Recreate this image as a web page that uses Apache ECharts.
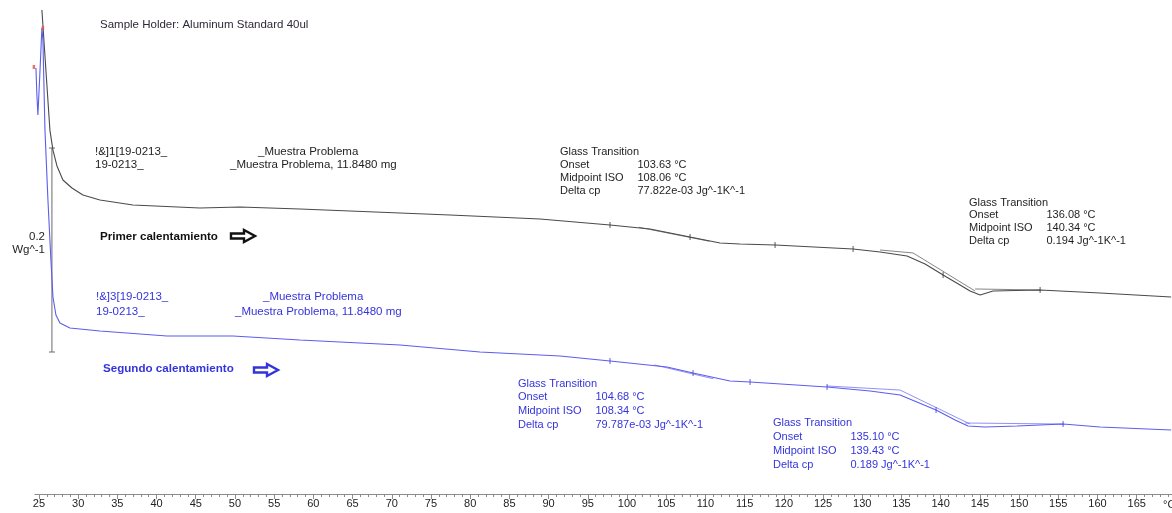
<!DOCTYPE html>
<html>
<head>
<meta charset="utf-8">
<title>DSC – Muestra Problema</title>
<script src="https://cdn.jsdelivr.net/npm/echarts@6/dist/echarts.min.js"></script>
<style>
  html, body { margin: 0; padding: 0; background: #ffffff; }
  #chart { width: 1172px; height: 513px; }
</style>
</head>
<body>
<div id="chart"></div>
<script>
// ---- Temperature axis (°C) ----
const xTickLabels = [25, 30, 35, 40, 45, 50, 55, 60, 65, 70, 75, 80, 85, 90, 95, 100,
  105, 110, 115, 120, 125, 130, 135, 140, 145, 150, 155, 160, 165];
const xMinorTicks = [];
for (let t = 25; t <= 169; t++) xMinorTicks.push(t);

// ---- Heat flow curves: [temperature °C, heat flow W/g] ----
const firstHeating = [
  [25.38, 0.4745], [25.89, 0.4157], [26.40, 0.3568], [26.79, 0.3372], [27.30, 0.3216],
  [28.06, 0.3078], [29.21, 0.3000], [30.61, 0.2931], [32.78, 0.2882], [36.99, 0.2833],
  [45.54, 0.2804], [50.64, 0.2814], [58.29, 0.2794], [64.67, 0.2775], [77.42, 0.2735],
  [88.90, 0.2696], [97.83, 0.2637], [102.93, 0.2598], [108.04, 0.2519], [111.86, 0.2461],
  [114.41, 0.2451], [118.88, 0.2441], [128.83, 0.2402], [132.27, 0.2372], [135.71, 0.2333],
  [138.01, 0.2255], [140.31, 0.2147], [142.47, 0.2049], [143.75, 0.1990], [145.03, 0.1951],
  [146.68, 0.1990], [152.68, 0.2000], [160.33, 0.1970], [169.39, 0.1931]
];
const secondHeating = [
  [24.62, 0.4176], [24.74, 0.3912], [24.87, 0.3716], [25.13, 0.4137], [25.38, 0.4568],
  [25.51, 0.4451], [25.77, 0.3568], [26.15, 0.2882], [26.53, 0.2294], [26.79, 0.1931],
  [27.17, 0.1755], [27.68, 0.1676], [28.95, 0.1627], [32.78, 0.1598], [41.33, 0.1549],
  [49.74, 0.1549], [58.29, 0.1510], [71.05, 0.1461], [81.25, 0.1392], [91.45, 0.1353],
  [97.83, 0.1304], [105.10, 0.1245], [108.42, 0.1186], [113.14, 0.1108], [115.69, 0.1098],
  [125.51, 0.1049], [131.00, 0.1010], [134.82, 0.0970], [139.41, 0.0823], [141.84, 0.0725],
  [143.49, 0.0667], [145.66, 0.0657], [149.74, 0.0667], [155.61, 0.0686], [160.33, 0.0657],
  [169.39, 0.0627]
];

// Tangent / baseline constructions of the glass transitions (segments)
const firstTangents = [
  [[101.5, 0.2615], [110.5, 0.2478]],
  [[132.27, 0.2392], [136.48, 0.2363]],
  [[136.48, 0.2363], [144.39, 0.1990]],
  [[144.39, 0.2010], [152.68, 0.2000]]
];
const secondTangents = [
  [[103.5, 0.1265], [111.0, 0.1130]],
  [[125.51, 0.1059], [134.82, 0.1019]],
  [[134.82, 0.1019], [143.75, 0.0686]],
  [[143.11, 0.0696], [155.61, 0.0686]]
];

// Evaluation limit markers on each curve
const firstLimits = [[97.83, 0.2637], [108.04, 0.2519], [118.88, 0.2441],
  [128.83, 0.2402], [140.31, 0.2147], [152.68, 0.2000]];
const secondLimits = [[97.83, 0.1304], [108.42, 0.1186], [115.69, 0.1098],
  [125.51, 0.1049], [139.41, 0.0823], [155.61, 0.0686]];

// Start-of-run markers
const startMarks = [[24.36, 0.4186], [25.51, 0.4568]];

// Heat-flow scale bar (0.2 W/g)
const scaleBarT = 26.66;
const scaleBarTop = 0.3392;
const scaleStep = 0.2;

// ---- Glass transition results ----
const tgRowLabels = ['Onset', 'Midpoint ISO', 'Delta cp'];
const firstOnset = ['103.63', '136.08'];
const firstMidpoint = ['108.06', '140.34'];
const firstDeltaCp = ['77.822e-03', '0.194'];
const secondOnset = ['104.68', '135.10'];
const secondMidpoint = ['108.34', '139.43'];
const secondDeltaCp = ['79.787e-03', '0.189'];

// ---- Colours / fonts ----
const BLACK_LINE = '#4a4a4a';
const BLUE_LINE = '#5c5cf0';
const BLACK_TEXT = '#1e1e1e';
const BLUE_TEXT = '#3434dc';
const FONT = '"Liberation Sans", Arial, sans-serif';

const chart = echarts.init(document.getElementById('chart'), null, { renderer: 'canvas' });

function txt(text, x, y, fill, size, weight, align) {
  return {
    type: 'text', silent: true,
    style: {
      text: text, x: x, y: y, fill: fill,
      font: (weight || 'normal') + ' ' + size + 'px ' + FONT,
      align: align || 'left', verticalAlign: 'middle'
    }
  };
}

function tgBlock(x, y, dy, color, onset, mid, dcp) {
  const out = [txt('Glass Transition', x, y, color, 11)];
  const vals = [onset + ' °C', mid + ' °C', dcp + ' Jg^-1K^-1'];
  for (let i = 0; i < 3; i++) {
    out.push(txt(tgRowLabels[i], x, y + dy * (i + 1), color, 11));
    out.push(txt(vals[i], x + 77.5, y + dy * (i + 1), color, 11));
  }
  return out;
}

function arrow(x, y, color) {
  return {
    type: 'polygon', silent: true,
    shape: { points: [[x, y - 2.5], [x + 13, y - 2.5], [x + 13, y - 6], [x + 24, y],
      [x + 13, y + 6], [x + 13, y + 2.5], [x, y + 2.5]] },
    style: { fill: '#ffffff', stroke: color, lineWidth: 2.4, lineJoin: 'miter' }
  };
}

const graphics = [].concat(
  [txt('Sample Holder: Aluminum Standard 40ul', 100, 25, '#2f2838', 11.5)],
  [txt('!&]1[19-0213_', 95, 152, BLACK_TEXT, 11.5),
   txt('19-0213_', 95, 164.5, BLACK_TEXT, 11.5),
   txt('_Muestra Problema', 258, 152, BLACK_TEXT, 11.5),
   txt('_Muestra Problema, 11.8480 mg', 230, 164.5, BLACK_TEXT, 11.5)],
  [txt('!&]3[19-0213_', 96, 297, BLUE_TEXT, 11.5),
   txt('19-0213_', 96, 311.5, BLUE_TEXT, 11.5),
   txt('_Muestra Problema', 263, 297, BLUE_TEXT, 11.5),
   txt('_Muestra Problema, 11.8480 mg', 235, 311.5, BLUE_TEXT, 11.5)],
  [txt('Primer calentamiento', 100, 236.5, '#111111', 11.6, 'bold'), arrow(231, 236, '#111111')],
  [txt('Segundo calentamiento', 103, 369, BLUE_TEXT, 11.6, 'bold'), arrow(254, 370, BLUE_TEXT)],
  [txt(String(scaleStep), 45, 237, BLACK_TEXT, 11.5, 'normal', 'right'),
   txt('Wg^-1', 45, 250, BLACK_TEXT, 11.5, 'normal', 'right')],
  tgBlock(560, 151.5, 13.3, BLACK_TEXT, firstOnset[0], firstMidpoint[0], firstDeltaCp[0]),
  tgBlock(969, 202.5, 12.9, BLACK_TEXT, firstOnset[1], firstMidpoint[1], firstDeltaCp[1]),
  tgBlock(518, 383.5, 13.9, BLUE_TEXT, secondOnset[0], secondMidpoint[0], secondDeltaCp[0]),
  tgBlock(773, 422.5, 14.3, BLUE_TEXT, secondOnset[1], secondMidpoint[1], secondDeltaCp[1]),
  [txt('°C', 1163, 505, BLACK_TEXT, 11)]
);

function segSeries(segs, color) {
  return segs.map(s => ({
    type: 'line', data: s, showSymbol: false, silent: true, clip: false,
    lineStyle: { color: color, width: 0.8, opacity: 0.85 }, z: 2
  }));
}

const option = {
  backgroundColor: '#ffffff',
  animation: false,
  grid: { left: 35, right: 0, top: 0, bottom: 19, containLabel: false },
  xAxis: [
    {
      type: 'value', min: 24.5, max: 169.5, position: 'bottom',
      axisLine: { show: true, lineStyle: { color: '#8c8c8c', width: 1 } },
      axisTick: { show: true, customValues: xMinorTicks, length: 3, lineStyle: { color: '#8c8c8c' } },
      axisLabel: { show: true, customValues: xTickLabels, color: '#222222', fontSize: 11,
        fontFamily: FONT, margin: 4 },
      splitLine: { show: false }
    },
    {
      type: 'value', min: 24.5, max: 169.5, position: 'bottom',
      axisLine: { show: false },
      axisTick: { show: true, customValues: xTickLabels, length: 5, lineStyle: { color: '#8c8c8c' } },
      axisLabel: { show: false },
      splitLine: { show: false }
    }
  ],
  yAxis: { type: 'value', min: 0, max: 0.4843, show: false, splitLine: { show: false } },
  graphic: graphics,
  series: [
    {
      name: 'Primer calentamiento', type: 'line', data: firstHeating, showSymbol: false,
      clip: false, lineStyle: { color: BLACK_LINE, width: 1.1 }, z: 3
    },
    {
      name: 'Segundo calentamiento', type: 'line', data: secondHeating, showSymbol: false,
      clip: false, lineStyle: { color: BLUE_LINE, width: 1.1 }, z: 3
    }
  ].concat(
    segSeries(firstTangents, BLACK_LINE),
    segSeries(secondTangents, BLUE_LINE),
    [
      {
        type: 'scatter', data: firstLimits, symbol: 'rect', symbolSize: [1, 6],
        itemStyle: { color: '#333333' }, silent: true, z: 4
      },
      {
        type: 'scatter', data: secondLimits, symbol: 'rect', symbolSize: [1, 6],
        itemStyle: { color: '#3a3ad8' }, silent: true, z: 4
      },
      {
        type: 'scatter', data: startMarks, symbol: 'rect', symbolSize: [2.5, 4],
        itemStyle: { color: '#e0504a' }, clip: false, silent: true, z: 5
      },
      {
        type: 'line', data: [[scaleBarT, scaleBarTop], [scaleBarT, scaleBarTop - scaleStep]],
        symbol: 'rect', symbolSize: [6, 1], showSymbol: true, clip: false, silent: true,
        lineStyle: { color: '#6a6a6a', width: 1 }, itemStyle: { color: '#6a6a6a' }, z: 2
      }
    ]
  )
};

chart.setOption(option);
</script>
</body>
</html>
